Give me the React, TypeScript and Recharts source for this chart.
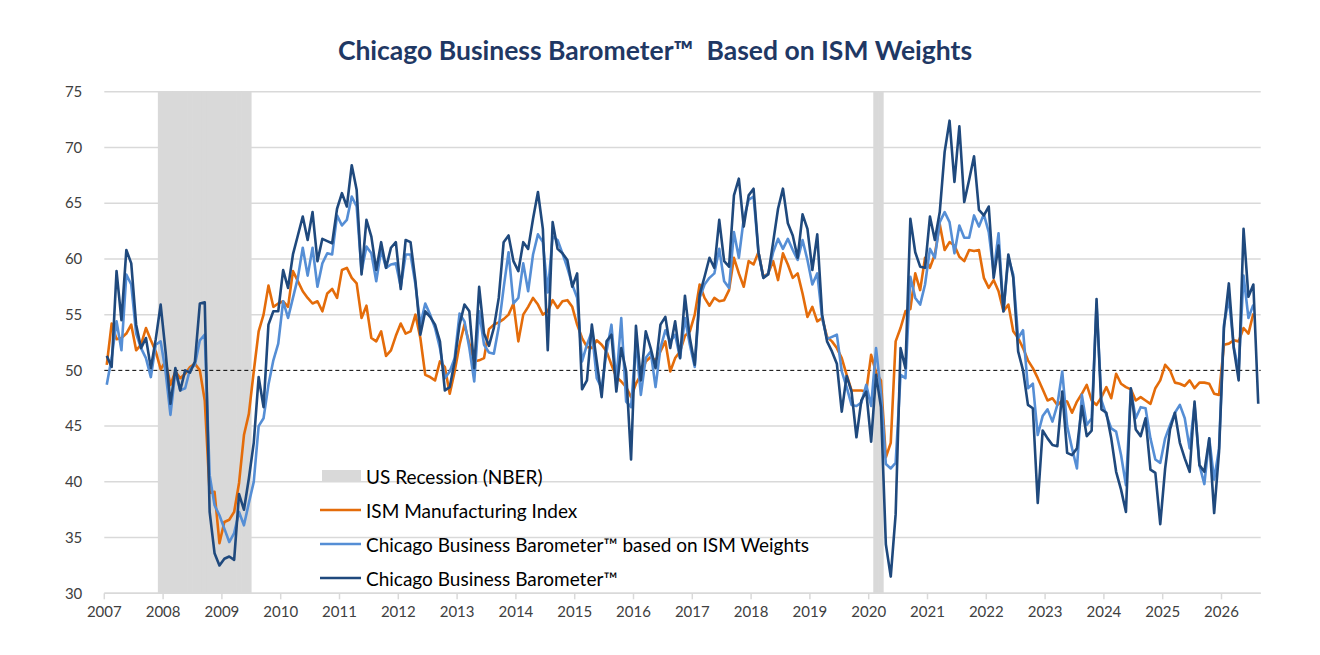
import {
    ComposedChart,
    Bar,
    Line,
    XAxis,
    YAxis,
    CartesianGrid,
    ReferenceLine,
    Legend,
} from 'recharts';

// ---- data (monthly, Jan 2007 onwards) ----

const YEAR_LABELS = [
    '2007', '2008', '2009', '2010', '2011', '2012', '2013', '2014', '2015', '2016',
    '2017', '2018', '2019', '2020', '2021', '2022', '2023', '2024', '2025', '2026',
];

const MONTH_COUNT = 236;

const MONTHS = YEAR_LABELS.flatMap((y) =>
    ['01', '02', '03', '04', '05', '06', '07', '08', '09', '10', '11', '12'].map((m) => `${y}-${m}`)
).slice(0, MONTH_COUNT);

const RECESSIONS = [
    { from: '2007-12', to: '2009-06' },
    { from: '2020-02', to: '2020-03' },
];

const ISM_MANUFACTURING = [
    50.5, 54.2, 52.8, 52.9, 53.3, 54.1, 51.8, 52.3, 53.8, 52.7, 51.7, 50.1,
    50.8, 48.7, 49.9, 49.3, 49.7, 50.3, 50.6, 50.0, 47.3, 39.0, 39.1, 34.5,
    36.4, 36.6, 37.3, 39.9, 44.2, 46.1, 49.9, 53.5, 55.0, 57.6, 55.7, 56.0,
    56.2, 55.7, 58.9, 58.0, 57.1, 56.5, 56.0, 56.2, 55.3, 56.9, 57.3, 56.5,
    59.0, 59.2, 58.3, 57.8, 54.7, 55.8, 52.9, 52.6, 53.5, 51.3, 51.8, 53.1,
    54.2, 53.3, 53.5, 55.0, 52.9, 49.6, 49.4, 49.1, 50.8, 50.3, 47.9, 49.9,
    52.3, 54.1, 52.4, 50.8, 50.9, 51.1, 53.7, 54.1, 54.3, 54.6, 55.0, 56.0,
    52.6, 55.0, 55.7, 56.5, 55.9, 55.0, 55.3, 56.3, 55.6, 56.2, 56.3, 55.7,
    54.1, 52.9, 52.1, 52.0, 52.7, 52.3, 51.7, 50.5, 49.4, 49.0, 48.5, 47.6,
    48.8, 49.6, 50.8, 51.2, 50.9, 51.7, 52.6, 49.9, 51.1, 51.7, 53.1, 53.5,
    55.0, 57.7, 56.5, 55.8, 56.5, 56.2, 56.3, 57.2, 60.1, 58.7, 57.5, 59.8,
    59.5, 60.6, 58.4, 58.7, 59.8, 58.1, 60.5, 59.5, 58.3, 58.7, 56.9, 54.8,
    55.7, 54.4, 54.7, 53.0, 52.6, 52.0, 51.1, 49.6, 48.2, 48.2, 48.2, 48.1,
    51.4, 49.8, 49.1, 42.2, 43.5, 52.6, 53.8, 55.3, 55.5, 58.7, 57.2, 60.1,
    59.2, 60.4, 63.1, 60.8, 61.5, 61.2, 60.2, 59.8, 60.8, 60.7, 60.8, 58.3,
    57.4, 58.1, 57.1, 55.3, 55.9, 53.5, 52.9, 52.0, 50.9, 50.2, 49.3, 48.3,
    47.3, 47.5, 46.9, 47.3, 47.2, 46.2, 47.2, 47.9, 48.7, 47.3, 46.9, 47.6,
    48.5, 47.5, 49.7, 48.8, 48.5, 48.3, 47.3, 47.6, 47.3, 47.0, 48.4, 49.1,
    50.5, 50.0, 48.9, 48.8, 48.6, 49.1, 48.4, 48.9, 48.9, 48.8, 47.9, 47.8,
    52.3, 52.4, 52.7, 52.6, 53.8, 53.3, 55.1,
];

const CBB_ISM_WEIGHTS = [
    48.7, 51.1, 54.4, 51.8, 58.6, 57.7, 53.3, 52.0, 51.1, 49.4, 52.3, 52.6,
    49.9, 46.0, 49.9, 48.2, 48.4, 50.1, 50.5, 52.7, 53.2, 40.6, 37.9, 37.0,
    35.8, 34.6, 35.4, 37.3, 36.1, 38.1, 40.0, 45.0, 45.7, 48.7, 50.9, 52.4,
    56.2, 54.7, 56.5, 58.3, 61.0, 58.5, 61.0, 57.5, 59.6, 60.5, 60.4, 63.9,
    63.0, 63.5, 65.6, 64.7, 58.9, 61.1, 60.5, 58.0, 60.8, 59.2, 59.5, 59.6,
    57.5, 60.4, 60.4, 57.7, 54.1, 56.0, 55.0, 53.8, 52.0, 49.3, 49.9, 51.1,
    55.1, 54.4, 52.0, 49.0, 55.3, 52.3, 51.6, 51.5, 53.9, 57.4, 60.6, 56.0,
    56.5, 59.6, 57.1, 60.4, 62.2, 61.5, 57.0, 62.0, 61.7, 60.5, 59.2, 57.7,
    56.5, 50.8, 52.3, 53.5, 49.3, 48.4, 51.7, 54.1, 49.0, 54.7, 47.2, 46.7,
    52.6, 47.8, 51.1, 51.7, 48.5, 52.0, 53.6, 52.6, 53.2, 51.1, 54.7, 52.3,
    50.3, 56.5, 57.7, 58.3, 58.7, 60.9, 58.0, 57.4, 62.4, 60.1, 63.6, 65.3,
    65.6, 60.6, 58.3, 58.7, 60.6, 61.8, 60.9, 61.8, 60.8, 59.9, 61.7, 59.9,
    57.7, 58.7, 54.7, 52.8, 53.0, 53.2, 49.9, 48.5, 46.9, 46.8, 47.1, 48.7,
    46.8, 52.0, 48.0, 41.6, 41.2, 41.7, 49.6, 49.3, 58.4, 56.5, 55.9, 57.7,
    60.9, 60.1, 63.3, 64.2, 63.3, 60.5, 63.0, 61.9, 61.9, 63.9, 62.9, 64.0,
    62.4, 58.8, 62.3, 55.3, 60.1, 58.6, 52.9, 53.6, 48.4, 48.8, 44.2, 45.9,
    46.5, 45.4, 46.9, 49.9, 45.0, 43.0, 41.2, 47.8, 45.1, 45.7, 55.9, 47.3,
    46.0, 44.8, 44.5, 42.4, 39.7, 48.2, 45.7, 46.7, 46.6, 43.9, 42.0, 41.7,
    43.9, 45.1, 46.2, 46.9, 45.7, 43.0, 46.9, 41.5, 39.8, 43.9, 40.2, 43.0,
    54.1, 56.5, 52.1, 50.0, 58.5, 54.7, 55.9,
];

const CBB = [
    51.3, 50.3, 58.9, 54.5, 60.8, 59.6, 54.1, 52.0, 52.9, 50.2, 52.8, 55.9,
    51.7, 47.0, 50.2, 48.2, 50.0, 49.8, 50.8, 56.0, 56.1, 37.3, 33.6, 32.5,
    33.1, 33.3, 33.0, 38.9, 37.5, 40.3, 43.5, 49.4, 46.7, 54.1, 55.3, 55.3,
    59.0, 57.4, 60.4, 62.1, 63.8, 61.7, 64.2, 59.8, 61.8, 61.6, 61.4, 64.5,
    65.9, 64.7, 68.4, 66.2, 58.6, 63.5, 62.0, 59.0, 61.5, 59.2, 61.0, 61.5,
    57.3, 61.7, 61.5, 58.0, 53.2, 55.3, 54.8, 54.1, 52.6, 48.2, 48.5, 50.8,
    54.1, 55.9, 55.3, 50.2, 57.5, 53.3, 52.2, 53.8, 56.5, 61.5, 62.1, 59.8,
    58.9, 61.5, 60.9, 63.6, 66.0, 62.7, 51.8, 63.3, 60.9, 60.5, 59.9, 57.5,
    58.7, 48.3, 49.1, 54.1, 50.8, 47.6, 52.6, 53.2, 48.1, 52.0, 49.9, 42.0,
    54.0, 49.1, 53.5, 52.0, 50.2, 54.1, 54.8, 52.0, 54.4, 51.1, 56.7, 52.9,
    50.5, 56.8, 58.4, 60.1, 59.2, 63.5, 59.8, 59.3, 65.7, 67.2, 62.9, 65.7,
    66.3, 60.6, 58.3, 58.6, 61.5, 64.5, 66.3, 63.2, 62.1, 60.1, 64.0, 62.7,
    59.0, 62.2, 55.0, 52.6, 51.7, 50.6, 46.3, 49.5, 48.1, 44.0, 47.3, 48.1,
    43.6, 49.6, 46.7, 34.4, 31.5, 37.1, 52.0, 50.2, 63.6, 60.6, 59.3, 59.2,
    63.8, 61.7, 64.2, 69.6, 72.4, 66.9, 71.9, 65.1, 67.1, 69.2, 64.4, 63.9,
    64.7, 58.3, 61.2, 55.3, 60.4, 58.3, 51.7, 50.0, 46.9, 46.6, 38.1, 44.6,
    43.9, 43.3, 43.2, 48.1, 42.6, 42.4, 43.0, 46.8, 44.1, 44.6, 56.4, 46.5,
    46.2, 43.9, 40.9, 39.3, 37.3, 48.4, 44.7, 44.1, 45.7, 41.1, 40.8, 36.2,
    41.2, 44.7, 46.2, 43.5, 42.1, 40.9, 47.2, 41.5, 40.9, 43.9, 37.2, 42.7,
    53.8, 57.8, 52.0, 49.1, 62.7, 56.6, 57.7, 47.0,
];

const Y_TICKS = [30, 35, 40, 45, 50, 55, 60, 65, 70, 75];
const GRID_VALUES = [30, 35, 40, 45, 55, 60, 65, 70, 75];
const RECESSION_TOP = 75;

const SERIES = [
    { key: 'recession', name: 'US Recession (NBER)', color: '#d9d9d9' },
    { key: 'ism', name: 'ISM Manufacturing Index', color: '#e46c0a' },
    { key: 'cbbIsm', name: 'Chicago Business Barometer™ based on ISM Weights', color: '#558ed5' },
    { key: 'cbb', name: 'Chicago Business Barometer™', color: '#1f497d' },
];

const inRecession = (month: string) =>
    RECESSIONS.some((r) => month >= r.from && month <= r.to);

const rows = MONTHS.map((month, i) => ({
    month,
    recession: inRecession(month) ? RECESSION_TOP : null,
    ism: ISM_MANUFACTURING[i] ?? null,
    cbbIsm: CBB_ISM_WEIGHTS[i] ?? null,
    cbb: CBB[i] ?? null,
}));

// ---- layout ----

const WIDTH = 1320;
const HEIGHT = 655;
const PLOT_LEFT = 104.3;
const PLOT_RIGHT = 1260.7;
const PLOT_TOP = 91.7;
const PLOT_BOTTOM = 593.3;
const X_AXIS_H = 40;
const BAND = (PLOT_RIGHT - PLOT_LEFT) / MONTHS.length;
const FONT = 'Lato, "Noto Sans", sans-serif';

function YearTick({ x, payload }: any) {
    const left = x - BAND / 2;
    return (
        <g>
            <line x1={left} x2={left} y1={PLOT_BOTTOM} y2={PLOT_BOTTOM + 6} stroke="#d9d9d9" strokeWidth={1.5} />
            <text x={left} y={PLOT_BOTTOM + 24} textAnchor="middle" fill="#404040" fontSize={15}>
                {String(payload.value).slice(0, 4)}
            </text>
        </g>
    );
}

function RecessionShape(props: any) {
    const { x, y, width, height, fill } = props;
    if (!height || height <= 0) return <g />;
    const cx = x + width / 2;
    return <rect x={cx - BAND / 2 - 0.3} y={y} width={BAND + 0.6} height={height} fill={fill} />;
}

function LegendBox({ payload }: any) {
    const order = SERIES.map((s) => s.key);
    const items = [...(payload || [])].sort(
        (a: any, b: any) => order.indexOf(a.dataKey) - order.indexOf(b.dataKey)
    );
    return (
        <div style={{ fontFamily: FONT, fontSize: 19, color: '#000' }}>
            {items.map((entry: any) => (
                <div key={entry.dataKey} style={{ display: 'flex', alignItems: 'center', height: 34 }}>
                    <svg width={44} height={14} style={{ flex: 'none' }}>
                        {entry.type === 'rect' ? (
                            <rect x={2} y={1} width={39} height={12} fill={entry.color} />
                        ) : (
                            <line x1={0} x2={41} y1={7} y2={7} stroke={entry.color} strokeWidth={2.5} />
                        )}
                    </svg>
                    <span style={{ marginLeft: 2, whiteSpace: 'nowrap' }}>{entry.value}</span>
                </div>
            ))}
        </div>
    );
}

export default function App() {
    const [rec, ism, cbbIsm, cbb] = SERIES;
    return (
        <div
            style={{
                position: 'absolute',
                left: 0,
                top: 0,
                width: WIDTH,
                height: HEIGHT,
                background: '#fff',
                fontFamily: FONT,
            }}
        >
            <div
                style={{
                    position: 'absolute',
                    left: 205,
                    width: 900,
                    top: 34,
                    textAlign: 'center',
                    fontSize: 26.5,
                    lineHeight: '32px',
                    fontWeight: 700,
                    color: '#1f3864',
                    whiteSpace: 'pre',
                }}
            >
                {'Chicago Business Barometer™  Based on ISM Weights'}
            </div>
            <ComposedChart
                width={WIDTH}
                height={HEIGHT}
                data={rows}
                margin={{ top: PLOT_TOP, right: WIDTH - PLOT_RIGHT, bottom: HEIGHT - PLOT_BOTTOM - X_AXIS_H, left: 0 }}
                barCategoryGap={0}
                barGap={0}
            >
                <CartesianGrid vertical={false} horizontalValues={GRID_VALUES} stroke="#d9d9d9" strokeWidth={1.5} />
                <XAxis
                    dataKey="month"
                    interval={11}
                    height={X_AXIS_H}
                    tickLine={false}
                    axisLine={{ stroke: '#d9d9d9', strokeWidth: 1.5 }}
                    tick={<YearTick />}
                />
                <YAxis
                    width={PLOT_LEFT}
                    domain={[30, 75]}
                    ticks={Y_TICKS}
                    axisLine={false}
                    tickLine={false}
                    tickMargin={16}
                    tick={{ fill: '#404040', fontSize: 15 }}
                />
                <Bar
                    dataKey={rec.key}
                    name={rec.name}
                    fill={rec.color}
                    barSize={BAND - 0.05}
                    shape={<RecessionShape />}
                    legendType="rect"
                    isAnimationActive={false}
                />
                <ReferenceLine y={50} stroke="#000" strokeWidth={1} strokeDasharray="4 3" />
                <Line
                    dataKey={ism.key}
                    name={ism.name}
                    stroke={ism.color}
                    strokeWidth={2.6}
                    strokeLinejoin="round"
                    dot={false}
                    legendType="line"
                    isAnimationActive={false}
                />
                <Line
                    dataKey={cbbIsm.key}
                    name={cbbIsm.name}
                    stroke={cbbIsm.color}
                    strokeWidth={2.6}
                    strokeLinejoin="round"
                    dot={false}
                    legendType="line"
                    isAnimationActive={false}
                />
                <Line
                    dataKey={cbb.key}
                    name={cbb.name}
                    stroke={cbb.color}
                    strokeWidth={2.6}
                    strokeLinejoin="round"
                    dot={false}
                    legendType="line"
                    isAnimationActive={false}
                />
                <Legend
                    layout="vertical"
                    align="center"
                    verticalAlign="middle"
                    content={<LegendBox />}
                    wrapperStyle={{ left: 320, top: 459, width: 540, height: 136 }}
                />
            </ComposedChart>
        </div>
    );
}
